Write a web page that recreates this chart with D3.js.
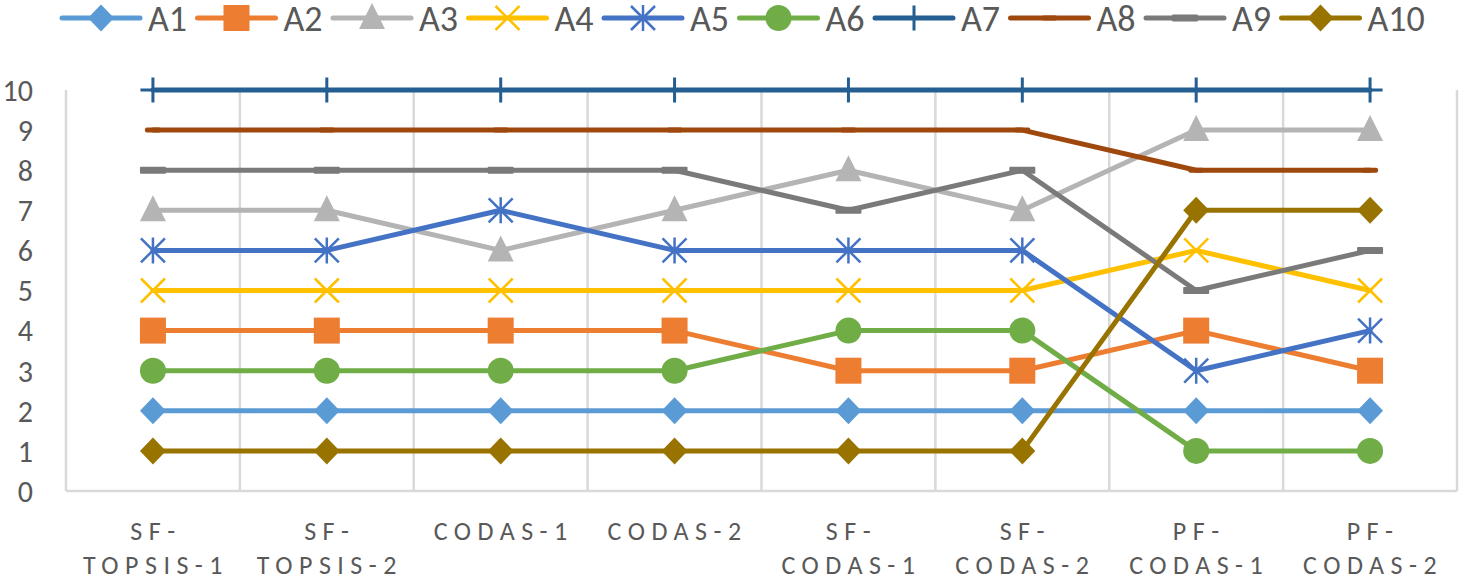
<!DOCTYPE html>
<meta charset="utf-8">
<head>
<style>
  body { margin: 0; background: #fff; }
  text { font-family: Carlito, Calibri, Lato, sans-serif; fill: #595959; }
  .grid line { stroke: #d9d9d9; stroke-width: 2.5; }
</style>
</head>
<div id="my_dataviz"></div>
<script src="https://d3js.org/d3.v7.min.js"></script>
<script>

// categories (x axis), each wrapped as Excel shows it
var categories = ["SF-TOPSIS-1", "SF-TOPSIS-2", "CODAS-1", "CODAS-2", "SF-CODAS-1", "SF-CODAS-2", "PF-CODAS-1", "PF-CODAS-2"];
var catLines = [["SF-", "TOPSIS-1"], ["SF-", "TOPSIS-2"], ["CODAS-1"], ["CODAS-2"], ["SF-", "CODAS-1"], ["SF-", "CODAS-2"], ["PF-", "CODAS-1"], ["PF-", "CODAS-2"]];
var yTicks = [0, 1, 2, 3, 4, 5, 6, 7, 8, 9, 10];

// series
var seriesNames = ["A1", "A2", "A3", "A4", "A5", "A6", "A7", "A8", "A9", "A10"];
var A1  = [2, 2, 2, 2, 2, 2, 2, 2];
var A2  = [4, 4, 4, 4, 3, 3, 4, 3];
var A3  = [7, 7, 6, 7, 8, 7, 9, 9];
var A4  = [5, 5, 5, 5, 5, 5, 6, 5];
var A5  = [6, 6, 7, 6, 6, 6, 3, 4];
var A6  = [3, 3, 3, 3, 4, 4, 1, 1];
var A7  = [10, 10, 10, 10, 10, 10, 10, 10];
var A8  = [9, 9, 9, 9, 9, 9, 8, 8];
var A9  = [8, 8, 8, 8, 7, 8, 5, 6];
var A10 = [1, 1, 1, 1, 1, 1, 7, 7];
var seriesValues = [A1, A2, A3, A4, A5, A6, A7, A8, A9, A10];

var colors  = ["#5b9bd5", "#ed7d31", "#b4b4b4", "#ffc000", "#4472c4", "#70ad47", "#255e91", "#9e480e", "#7a7a7a", "#997300"];
var markers = ["diamond", "square", "triangle", "x", "star", "circle", "plus", "dash", "bar", "diamond"];

var W = 1460, H = 580;
var plotL = 66, plotR = 1457, plotT = 90, plotB = 491;
var lineW = 5;

var svg = d3.select("#my_dataviz").append("svg")
    .attr("width", W).attr("height", H);

var x = d3.scalePoint().domain(categories).range([plotL, plotR]).padding(0.5);
var xb = d3.scaleBand().domain(categories).range([plotL, plotR]);
var y = d3.scaleLinear().domain([0, 10]).range([plotB, plotT]);

// vertical gridlines at category boundaries
var bounds = categories.map(function(c) { return xb(c); }).concat([plotR]);
svg.append("g").attr("class", "grid")
  .selectAll("line").data(bounds).enter().append("line")
    .attr("x1", function(d) { return d; }).attr("x2", function(d) { return d; })
    .attr("y1", plotT).attr("y2", plotB);
svg.append("line").attr("x1", plotL).attr("x2", plotR).attr("y1", plotB).attr("y2", plotB)
    .attr("stroke", "#d9d9d9").attr("stroke-width", 2.5);

// y tick labels
svg.append("g").selectAll("text").data(yTicks).enter().append("text")
    .attr("x", 33).attr("y", function(d) { return y(d); })
    .attr("dy", "0.36em").attr("text-anchor", "end")
    .style("font-size", "30px")
    .text(function(d) { return d; });

// x labels
var xl = svg.append("g").selectAll("text").data(categories).enter().append("text")
    .attr("text-anchor", "middle")
    .style("font-size", "26px").style("letter-spacing", "6.5px")
    .attr("transform", function(d) { return "translate(" + (x(d) + 3) + ",0)"; });
xl.selectAll("tspan").data(function(d, i) { return catLines[i]; }).enter().append("tspan")
    .attr("x", 0).attr("y", function(d, i) { return 540 + i * 34; })
    .text(function(d) { return d; });

function drawMarker(g, type, color) {
  if (type === "diamond") {
    g.append("path").attr("d", "M0,-13.5L13,0L0,13.5L-13,0Z").attr("fill", color);
  } else if (type === "square") {
    g.append("rect").attr("x", -13).attr("y", -13).attr("width", 26).attr("height", 26).attr("fill", color);
  } else if (type === "triangle") {
    g.append("path").attr("d", "M0,-15L13,11L-13,11Z").attr("fill", color);
  } else if (type === "circle") {
    g.append("circle").attr("r", 13).attr("fill", color);
  } else if (type === "x") {
    g.append("path").attr("d", "M-12,-12L12,12M12,-12L-12,12").attr("stroke", color).attr("stroke-width", 2.5);
  } else if (type === "star") {
    g.append("path").attr("d", "M-12,-12L12,12M12,-12L-12,12M0,-13L0,13").attr("stroke", color).attr("stroke-width", 2.5);
  } else if (type === "plus") {
    g.append("path").attr("d", "M-12.5,0L12.5,0M0,-12.5L0,12.5").attr("stroke", color).attr("stroke-width", 3);
  } else if (type === "dash") {
    g.append("rect").attr("x", -8).attr("y", -lineW / 2).attr("width", 16).attr("height", lineW).attr("rx", 2).attr("fill", color);
  } else if (type === "bar") {
    g.append("rect").attr("x", -13).attr("y", -3.5).attr("width", 26).attr("height", 7).attr("rx", 1).attr("fill", color);
  }
}

var line = d3.line()
    .x(function(d, i) { return x(categories[i]); })
    .y(function(d) { return y(d); });

seriesValues.forEach(function(vals, s) {
  var g = svg.append("g");
  g.append("path").datum(vals)
    .attr("d", line).attr("fill", "none")
    .attr("stroke", colors[s]).attr("stroke-width", lineW)
    .attr("stroke-linejoin", "round").attr("stroke-linecap", "round");
  vals.forEach(function(v, i) {
    var m = g.append("g").attr("transform", "translate(" + x(categories[i]) + "," + y(v) + ")");
    drawMarker(m, markers[s], colors[s]);
  });
});

// legend
var legend = svg.append("g");
seriesNames.forEach(function(name, s) {
  var lx = 62 + s * 135.5;
  var item = legend.append("g").attr("transform", "translate(" + lx + ",18)");
  item.append("line").attr("x1", 0).attr("x2", 78).attr("y1", 0).attr("y2", 0)
    .attr("stroke", colors[s]).attr("stroke-width", lineW).attr("stroke-linecap", "round");
  var m = item.append("g").attr("transform", "translate(39,0)");
  drawMarker(m, markers[s], colors[s]);
  item.append("text").attr("x", 86).attr("y", 0).attr("dy", "0.36em")
    .style("font-size", "36px").text(name);
});
</script>
